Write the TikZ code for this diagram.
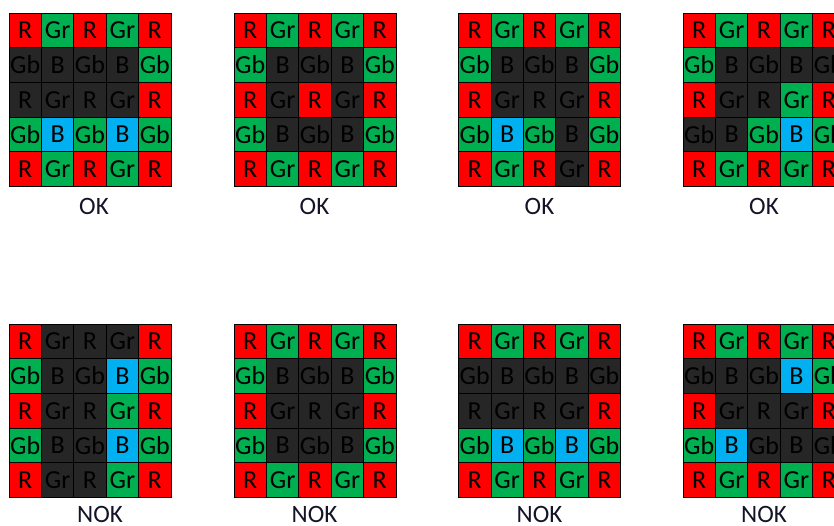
\documentclass[tikz,border=0pt]{standalone}
\usepackage{fontspec}
\setmainfont{Carlito}
\definecolor{bred}{HTML}{FF0000}
\definecolor{bgreen}{HTML}{00B050}
\definecolor{bblue}{HTML}{00B0F0}
\definecolor{bdark}{HTML}{262626}
\definecolor{labcol}{HTML}{141428}
\tikzset{
  cell/.style={draw=black, line width=0.8pt, minimum width=32.4pt, minimum height=34.7pt,
    inner sep=0pt, text=black, font=\fontsize{26}{26}\selectfont},
  verdict/.style={text=labcol, inner sep=0pt, font=\fontsize{25}{25}\selectfont}
}
\newcommand\bayergrid[4]{%
  \foreach \rowspec [count=\r from 0] in {#4} {
    \foreach \c [count=\k from 0] in \rowspec {
      \pgfmathtruncatemacro\pr{mod(\r,2)}
      \pgfmathtruncatemacro\pk{mod(\k,2)}
      \ifnum\pr=0
        \ifnum\pk=0 \def\lab{R}\def\col{bred}\else \def\lab{Gr}\def\col{bgreen}\fi
      \else
        \ifnum\pk=0 \def\lab{Gb}\def\col{bgreen}\else \def\lab{B}\def\col{bblue}\fi
      \fi
      \def\dcode{d}\edef\tmp{\c}
      \ifx\tmp\dcode \def\col{bdark}\fi
      \node[cell, fill=\col] (#1-\r-\k) at ({#2+(\k+0.5)*32.4}, {#3+(\r+0.5)*34.7}) {\lab};
    }
  }
}
\begin{document}
\begin{tikzpicture}[x=1pt, y=-1pt]
\useasboundingbox (0,0) rectangle (834,525);
\clip (0,0) rectangle (834,525);
\bayergrid{ga}{9}{13}{{n,n,n,n,n},{d,d,d,d,n},{d,d,d,d,n},{n,n,n,n,n},{n,n,n,n,n}}
\bayergrid{gb}{234}{13}{{n,n,n,n,n},{n,d,d,d,n},{n,d,n,d,n},{n,d,d,d,n},{n,n,n,n,n}}
\bayergrid{gc}{458.5}{13}{{n,n,n,n,n},{n,d,d,d,n},{n,d,d,d,n},{n,n,n,d,n},{n,n,n,d,n}}
\bayergrid{gd}{683}{13}{{n,n,n,n,n},{n,d,d,d,d},{n,d,d,n,n},{d,d,n,n,n},{n,n,n,n,n}}
\bayergrid{ge}{9}{324}{{n,d,d,d,n},{n,d,d,n,n},{n,d,d,n,n},{n,d,d,n,n},{n,d,d,n,n}}
\bayergrid{gf}{234}{324}{{n,n,n,n,n},{n,d,d,d,n},{n,d,d,d,n},{n,d,d,d,n},{n,n,n,n,n}}
\bayergrid{gg}{458.5}{324}{{n,n,n,n,n},{d,d,d,d,d},{d,d,d,d,n},{n,n,n,n,n},{n,n,n,n,n}}
\bayergrid{gh}{683}{324}{{n,n,n,n,n},{d,d,d,n,n},{n,d,d,d,n},{n,n,d,d,d},{n,n,n,n,n}}
\node[verdict] (la) at (94,206) {OK};
\node[verdict] (lb) at (314.5,206) {OK};
\node[verdict] (lc) at (539.5,206) {OK};
\node[verdict] (ld) at (764,206) {OK};
\node[verdict] (le) at (100,514) {NOK};
\node[verdict] (lf) at (314.5,514) {NOK};
\node[verdict] (lg) at (539.5,514) {NOK};
\node[verdict] (lh) at (764,514) {NOK};
\end{tikzpicture}
\end{document}
